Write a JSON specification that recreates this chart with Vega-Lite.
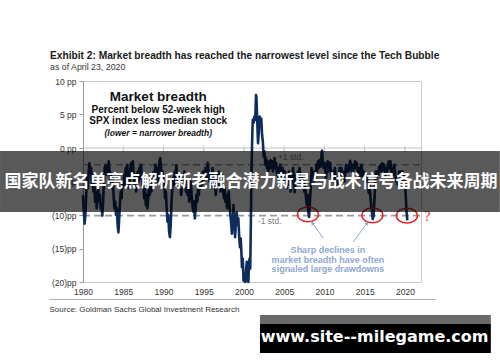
{
  "$schema": "https://vega.github.io/schema/vega-lite/v6.json",
  "width": 338,
  "height": 201,
  "autosize": "none",
  "padding": {"left": 83, "top": 81, "right": 79, "bottom": 80},
  "background": "white",
  "config": {
    "view": {"stroke": "#c8c8c8", "strokeWidth": 1},
    "font": "Liberation Sans"
  },
  "title": {
    "text": "Exhibit 2: Market breadth has reached the narrowest level since the Tech Bubble",
    "subtitle": "as of April 23, 2020",
    "anchor": "start",
    "frame": "group",
    "dx": -33,
    "offset": 5,
    "font": "Liberation Sans",
    "fontSize": 10.2,
    "fontWeight": "bold",
    "color": "#1a1a1a",
    "subtitleFont": "Liberation Sans",
    "subtitleFontSize": 8.8,
    "subtitleColor": "#333333",
    "subtitlePadding": 2
  },
  "encoding": {
    "x": {
      "field": "t",
      "type": "quantitative",
      "scale": {"domain": [1980, 2022], "nice": false, "zero": false},
      "axis": {
        "values": [1980, 1985, 1990, 1995, 2000, 2005, 2010, 2015, 2020],
        "format": "d",
        "grid": false,
        "ticks": false,
        "domain": false,
        "labelFlush": false,
        "labelFontSize": 8.5,
        "labelColor": "#333333",
        "labelPadding": 5,
        "title": "Source: Goldman Sachs Global Investment Research",
        "titleX": -34,
        "titleY": 27,
        "titleAlign": "left",
        "titleBaseline": "middle",
        "titleFontWeight": "normal",
        "titleFontSize": 8,
        "titleColor": "#333333"
      }
    },
    "y": {
      "field": "v",
      "type": "quantitative",
      "scale": {"domain": [-20, 10], "nice": false, "zero": false},
      "axis": {
        "values": [-20, -15, -10, -5, 0, 5, 10],
        "labelExpr": "datum.value > 0 ? datum.value + ' pp' : (datum.value == 0 ? '0 pp' : '(' + (-datum.value) + ')pp')",
        "grid": false,
        "domainColor": "#999999",
        "tickColor": "#999999",
        "tickSize": 4,
        "labelFontSize": 8.5,
        "labelColor": "#333333",
        "labelPadding": 3,
        "title": null
      }
    }
  },
  "layer": [
    {
      "data": {"values": [{"t": 1980, "t2": 2022, "v": 0}]},
      "mark": {"type": "rule", "color": "#c0c0c0", "strokeWidth": 1},
      "encoding": {"x2": {"field": "t2"}}
    },
    {
      "data": {"values": [{"t": 1985, "v": 0.3, "v2": -0.6}, {"t": 1990, "v": 0.3, "v2": -0.6}, {"t": 1995, "v": 0.3, "v2": -0.6}, {"t": 2000, "v": 0.3, "v2": -0.6}, {"t": 2005, "v": 0.3, "v2": -0.6}, {"t": 2010, "v": 0.3, "v2": -0.6}, {"t": 2015, "v": 0.3, "v2": -0.6}, {"t": 2020, "v": 0.3, "v2": -0.6}]},
      "mark": {"type": "rule", "color": "#c0c0c0", "strokeWidth": 1},
      "encoding": {"y2": {"field": "v2"}}
    },
    {
      "data": {"values": [{"t": 1980, "t2": 2022, "v": -2.5}, {"t": 1980, "t2": 2022, "v": -10.1}]},
      "mark": {"type": "rule", "color": "#9a9a9a", "strokeWidth": 1.6, "strokeDash": [7, 4]},
      "encoding": {"x2": {"field": "t2"}}
    },
    {
      "data": {"values": [
        {"t":1980.0,"v":-7},{"t":1980.1,"v":-9.5},{"t":1980.2,"v":-11.3},{"t":1980.3,"v":-10},{"t":1980.4,"v":-7},{"t":1980.5,"v":-4.5},{"t":1980.6,"v":-6},{"t":1980.7,"v":-3.5},{"t":1980.8,"v":-2.3},{"t":1980.9,"v":-4},
        {"t":1981.0,"v":-3},{"t":1981.1,"v":-5.5},{"t":1981.2,"v":-4},{"t":1981.3,"v":-6.5},{"t":1981.4,"v":-5},{"t":1981.5,"v":-8},{"t":1981.6,"v":-6.5},{"t":1981.7,"v":-9},{"t":1981.8,"v":-7.5},{"t":1981.9,"v":-6},
        {"t":1982.0,"v":-8},{"t":1982.1,"v":-7},{"t":1982.2,"v":-9},{"t":1982.3,"v":-8.5},{"t":1982.4,"v":-10.1},{"t":1982.5,"v":-8},{"t":1982.6,"v":-5},{"t":1982.7,"v":-3},{"t":1982.8,"v":-2.5},{"t":1982.9,"v":-4},
        {"t":1983.0,"v":-2.8},{"t":1983.1,"v":-3.5},{"t":1983.2,"v":-2},{"t":1983.3,"v":-3.5},{"t":1983.4,"v":-5},{"t":1983.5,"v":-3.8},{"t":1983.6,"v":-6},{"t":1983.7,"v":-4.5},{"t":1983.8,"v":-7},{"t":1983.9,"v":-9},
        {"t":1984.0,"v":-8},{"t":1984.1,"v":-10},{"t":1984.2,"v":-9},{"t":1984.3,"v":-11.5},{"t":1984.4,"v":-12.6},{"t":1984.5,"v":-10.5},{"t":1984.6,"v":-8},{"t":1984.7,"v":-6.5},{"t":1984.8,"v":-7.5},{"t":1984.9,"v":-5},
        {"t":1985.0,"v":-6},{"t":1985.1,"v":-4},{"t":1985.2,"v":-5.5},{"t":1985.3,"v":-3},{"t":1985.4,"v":-4.5},{"t":1985.5,"v":-2.5},{"t":1985.6,"v":-4},{"t":1985.7,"v":-6},{"t":1985.8,"v":-4.8},{"t":1985.9,"v":-3},
        {"t":1986.0,"v":-2.2},{"t":1986.1,"v":-3.5},{"t":1986.2,"v":-2},{"t":1986.3,"v":-4},{"t":1986.4,"v":-5.5},{"t":1986.5,"v":-4},{"t":1986.6,"v":-6.5},{"t":1986.7,"v":-5},{"t":1986.8,"v":-3.5},{"t":1986.9,"v":-5},
        {"t":1987.0,"v":-3},{"t":1987.1,"v":-4.5},{"t":1987.2,"v":-2.5},{"t":1987.3,"v":-4},{"t":1987.4,"v":-6},{"t":1987.5,"v":-5},{"t":1987.6,"v":-7.5},{"t":1987.7,"v":-6},{"t":1987.8,"v":-8.5},{"t":1987.9,"v":-7},
        {"t":1988.0,"v":-9},{"t":1988.1,"v":-7.5},{"t":1988.2,"v":-6},{"t":1988.3,"v":-7},{"t":1988.4,"v":-5},{"t":1988.5,"v":-6.5},{"t":1988.6,"v":-4.5},{"t":1988.7,"v":-5.5},{"t":1988.8,"v":-3.5},{"t":1988.9,"v":-4.5},
        {"t":1989.0,"v":-2.5},{"t":1989.1,"v":-4},{"t":1989.2,"v":-3},{"t":1989.3,"v":-5},{"t":1989.4,"v":-3.5},{"t":1989.5,"v":-2},{"t":1989.6,"v":-1.5},{"t":1989.7,"v":-3},{"t":1989.8,"v":-4.5},{"t":1989.9,"v":-3.5},
        {"t":1990.0,"v":-6},{"t":1990.1,"v":-5},{"t":1990.2,"v":-7.5},{"t":1990.3,"v":-6.5},{"t":1990.4,"v":-9},{"t":1990.5,"v":-11},{"t":1990.6,"v":-10},{"t":1990.7,"v":-12.5},{"t":1990.8,"v":-13.3},{"t":1990.9,"v":-11.5},
        {"t":1991.0,"v":-8},{"t":1991.1,"v":-6},{"t":1991.2,"v":-4.5},{"t":1991.3,"v":-5.5},{"t":1991.4,"v":-3.5},{"t":1991.5,"v":-4.5},{"t":1991.6,"v":-2.6},{"t":1991.7,"v":-4},{"t":1991.8,"v":-5.5},{"t":1991.9,"v":-4},
        {"t":1992.0,"v":-6},{"t":1992.1,"v":-5},{"t":1992.2,"v":-7},{"t":1992.3,"v":-5.5},{"t":1992.4,"v":-4},{"t":1992.5,"v":-5},{"t":1992.6,"v":-3.5},{"t":1992.7,"v":-5},{"t":1992.8,"v":-6.5},{"t":1992.9,"v":-5},
        {"t":1993.0,"v":-7},{"t":1993.1,"v":-6},{"t":1993.2,"v":-8},{"t":1993.3,"v":-6.5},{"t":1993.4,"v":-5},{"t":1993.5,"v":-7},{"t":1993.6,"v":-8.5},{"t":1993.7,"v":-9.5},{"t":1993.8,"v":-8},{"t":1993.9,"v":-10.5},
        {"t":1994.0,"v":-9},{"t":1994.1,"v":-7},{"t":1994.2,"v":-8},{"t":1994.3,"v":-6},{"t":1994.4,"v":-7},{"t":1994.5,"v":-5},{"t":1994.6,"v":-6},{"t":1994.7,"v":-4.5},{"t":1994.8,"v":-5.5},{"t":1994.9,"v":-3.5},
        {"t":1995.0,"v":-5},{"t":1995.1,"v":-4},{"t":1995.2,"v":-3},{"t":1995.3,"v":-4.5},{"t":1995.4,"v":-3.5},{"t":1995.5,"v":-2.2},{"t":1995.6,"v":-3.5},{"t":1995.7,"v":-5},{"t":1995.8,"v":-4},{"t":1995.9,"v":-6},
        {"t":1996.0,"v":-4.5},{"t":1996.1,"v":-3},{"t":1996.2,"v":-4.5},{"t":1996.3,"v":-6},{"t":1996.4,"v":-5},{"t":1996.5,"v":-7},{"t":1996.6,"v":-5.5},{"t":1996.7,"v":-4},{"t":1996.8,"v":-5.5},{"t":1996.9,"v":-3.5},
        {"t":1997.0,"v":-5},{"t":1997.1,"v":-6.5},{"t":1997.2,"v":-5},{"t":1997.3,"v":-4},{"t":1997.4,"v":-6},{"t":1997.5,"v":-7.5},{"t":1997.6,"v":-6},{"t":1997.7,"v":-8},{"t":1997.8,"v":-7},{"t":1997.9,"v":-9},
        {"t":1998.0,"v":-8},{"t":1998.1,"v":-6.5},{"t":1998.2,"v":-8.5},{"t":1998.3,"v":-9.9},{"t":1998.4,"v":-11},{"t":1998.5,"v":-12.8},{"t":1998.6,"v":-10.8},{"t":1998.7,"v":-8.5},{"t":1998.8,"v":-11},{"t":1998.9,"v":-13.3},
        {"t":1999.0,"v":-11},{"t":1999.1,"v":-9.6},{"t":1999.2,"v":-11.5},{"t":1999.3,"v":-10.5},{"t":1999.4,"v":-13},{"t":1999.5,"v":-14.8},{"t":1999.6,"v":-13.5},{"t":1999.7,"v":-16},{"t":1999.75,"v":-17.8},{"t":1999.85,"v":-16.5},
        {"t":1999.95,"v":-19.8},{"t":2000.05,"v":-19.5},{"t":2000.15,"v":-20},{"t":2000.25,"v":-18.5},{"t":2000.35,"v":-17},{"t":2000.45,"v":-19.8},{"t":2000.55,"v":-20},{"t":2000.62,"v":-17.3},{"t":2000.7,"v":-16.5},{"t":2000.78,"v":-18},
        {"t":2000.85,"v":-12},{"t":2000.92,"v":-5},{"t":2001.0,"v":0},{"t":2001.05,"v":2.7},{"t":2001.1,"v":4.2},{"t":2001.2,"v":3.8},{"t":2001.3,"v":4.7},{"t":2001.4,"v":4.2},{"t":2001.5,"v":7.9},{"t":2001.55,"v":7.6},
        {"t":2001.65,"v":4},{"t":2001.75,"v":0.7},{"t":2001.85,"v":2.5},{"t":2001.95,"v":4.7},{"t":2002.05,"v":3.5},{"t":2002.15,"v":4.4},{"t":2002.25,"v":2},{"t":2002.35,"v":0.9},{"t":2002.45,"v":-1.3},{"t":2002.55,"v":-0.5},
        {"t":2002.65,"v":-2.5},{"t":2002.75,"v":-1.5},{"t":2002.85,"v":-3},{"t":2002.95,"v":-2},{"t":2003.05,"v":-3.5},{"t":2003.15,"v":-2.5},{"t":2003.3,"v":-1.8},{"t":2003.4,"v":-3},{"t":2003.5,"v":-2},{"t":2003.6,"v":-3.5},
        {"t":2003.7,"v":-2.5},{"t":2003.8,"v":-1.5},{"t":2003.9,"v":-3},{"t":2004.0,"v":-2.2},{"t":2004.1,"v":-4},{"t":2004.2,"v":-3},{"t":2004.3,"v":-4.5},{"t":2004.4,"v":-3.5},{"t":2004.5,"v":-2.5},{"t":2004.6,"v":-3.5},
        {"t":2004.7,"v":-4.5},{"t":2004.8,"v":-3},{"t":2004.9,"v":-4},{"t":2005.0,"v":-5},{"t":2005.1,"v":-3.5},{"t":2005.2,"v":-4.5},{"t":2005.3,"v":-6},{"t":2005.4,"v":-4.5},{"t":2005.5,"v":-5.5},{"t":2005.6,"v":-3.5},
        {"t":2005.7,"v":-4.5},{"t":2005.8,"v":-6.5},{"t":2005.9,"v":-5},{"t":2006.0,"v":-4},{"t":2006.1,"v":-3},{"t":2006.2,"v":-4.5},{"t":2006.3,"v":-6.6},{"t":2006.4,"v":-5.5},{"t":2006.5,"v":-4},{"t":2006.6,"v":-5},
        {"t":2006.7,"v":-3.5},{"t":2006.8,"v":-4.5},{"t":2006.9,"v":-3},{"t":2007.0,"v":-4},{"t":2007.1,"v":-5.5},{"t":2007.2,"v":-4.5},{"t":2007.3,"v":-6},{"t":2007.4,"v":-5},{"t":2007.5,"v":-6.5},{"t":2007.6,"v":-5.5},
        {"t":2007.7,"v":-7.3},{"t":2007.8,"v":-8.5},{"t":2007.9,"v":-7},{"t":2008.0,"v":-9.6},{"t":2008.1,"v":-10.3},{"t":2008.2,"v":-8},{"t":2008.3,"v":-6},{"t":2008.4,"v":-3},{"t":2008.5,"v":-4.3},{"t":2008.6,"v":-3.5},
        {"t":2008.7,"v":-5},{"t":2008.8,"v":-3.5},{"t":2008.9,"v":-4.5},{"t":2009.0,"v":-2.5},{"t":2009.1,"v":-3.5},{"t":2009.2,"v":-2},{"t":2009.3,"v":-3},{"t":2009.4,"v":-1.8},{"t":2009.5,"v":-2.8},{"t":2009.6,"v":-1.5},
        {"t":2009.7,"v":-0.4},{"t":2009.8,"v":-2},{"t":2009.9,"v":-3},{"t":2010.0,"v":-2.2},{"t":2010.1,"v":-3},{"t":2010.2,"v":-4.5},{"t":2010.3,"v":-3},{"t":2010.4,"v":-2},{"t":2010.5,"v":-3.5},{"t":2010.6,"v":-2.5},
        {"t":2010.7,"v":-2.2},{"t":2010.8,"v":-3.5},{"t":2010.9,"v":-4.5},{"t":2011.0,"v":-3.5},{"t":2011.1,"v":-5},{"t":2011.2,"v":-4},{"t":2011.3,"v":-3},{"t":2011.4,"v":-4.5},{"t":2011.5,"v":-5.6},{"t":2011.6,"v":-4.4},
        {"t":2011.7,"v":-5.5},{"t":2011.8,"v":-4},{"t":2011.9,"v":-3},{"t":2012.0,"v":-4},{"t":2012.1,"v":-3},{"t":2012.2,"v":-4.5},{"t":2012.3,"v":-3.5},{"t":2012.4,"v":-4},{"t":2012.5,"v":-5},{"t":2012.6,"v":-3.5},
        {"t":2012.7,"v":-2.5},{"t":2012.8,"v":-3.5},{"t":2012.9,"v":-2.8},{"t":2013.0,"v":-3.5},{"t":2013.1,"v":-2.5},{"t":2013.2,"v":-1.9},{"t":2013.3,"v":-2.5},{"t":2013.4,"v":-3.5},{"t":2013.5,"v":-2.5},{"t":2013.6,"v":-3.5},
        {"t":2013.7,"v":-2.8},{"t":2013.8,"v":-2},{"t":2013.9,"v":-3},{"t":2014.0,"v":-2.2},{"t":2014.1,"v":-3},{"t":2014.2,"v":-4},{"t":2014.3,"v":-3},{"t":2014.4,"v":-4.5},{"t":2014.5,"v":-3.5},{"t":2014.6,"v":-2.5},
        {"t":2014.7,"v":-3.5},{"t":2014.8,"v":-4.5},{"t":2014.9,"v":-3.5},{"t":2015.0,"v":-5},{"t":2015.1,"v":-4},{"t":2015.2,"v":-5},{"t":2015.3,"v":-4},{"t":2015.4,"v":-5.5},{"t":2015.5,"v":-6.7},{"t":2015.6,"v":-5.5},
        {"t":2015.7,"v":-7},{"t":2015.8,"v":-8.5},{"t":2015.9,"v":-9.5},{"t":2016.0,"v":-10.6},{"t":2016.1,"v":-10.2},{"t":2016.2,"v":-8},{"t":2016.3,"v":-5.5},{"t":2016.4,"v":-3.5},{"t":2016.5,"v":-4.5},{"t":2016.6,"v":-3.5},
        {"t":2016.7,"v":-4},{"t":2016.8,"v":-2.8},{"t":2016.9,"v":-3.5},{"t":2017.0,"v":-2.5},{"t":2017.1,"v":-3.5},{"t":2017.2,"v":-2.3},{"t":2017.3,"v":-3.2},{"t":2017.4,"v":-2.5},{"t":2017.5,"v":-3.5},{"t":2017.6,"v":-4},
        {"t":2017.7,"v":-3},{"t":2017.8,"v":-3.5},{"t":2017.9,"v":-2.5},{"t":2018.0,"v":-2},{"t":2018.1,"v":-3},{"t":2018.2,"v":-2},{"t":2018.3,"v":-3.5},{"t":2018.4,"v":-3},{"t":2018.5,"v":-4},{"t":2018.6,"v":-3},
        {"t":2018.7,"v":-2.5},{"t":2018.8,"v":-4},{"t":2018.9,"v":-5},{"t":2019.0,"v":-4.4},{"t":2019.1,"v":-5.5},{"t":2019.2,"v":-4.5},{"t":2019.3,"v":-3.5},{"t":2019.4,"v":-4.5},{"t":2019.5,"v":-3.5},{"t":2019.6,"v":-4.5},
        {"t":2019.7,"v":-3.5},{"t":2019.8,"v":-5},{"t":2019.9,"v":-4},{"t":2020.0,"v":-5.5},{"t":2020.1,"v":-7},{"t":2020.2,"v":-9.5},{"t":2020.3,"v":-10.8}
      ]},
      "mark": {"type": "line", "color": "#0f2d5c", "strokeWidth": 2.6, "strokeJoin": "round"}
    },
    {
      "data": {"values": [{"t": 2007.95, "v": -9.9}, {"t": 2015.96, "v": -10.05}, {"t": 2020.25, "v": -10.1}]},
      "mark": {"type": "point", "shape": "M-1,0A1,0.7,0,1,0,1,0A1,0.7,0,1,0,-1,0Z", "size": 441, "filled": false, "stroke": "#e0262b", "strokeWidth": 1.5, "opacity": 1}
    },
    {
      "data": {"values": [{"t": 2009.85, "v": -13.48, "t2": 2008.41, "v2": -11.0}, {"t": 2013.58, "v": -13.99, "t2": 2015.44, "v2": -11.0}]},
      "mark": {"type": "rule", "color": "#8fa8cc", "strokeWidth": 1},
      "encoding": {"x2": {"field": "t2"}, "y2": {"field": "v2"}}
    },
    {
      "data": {"values": [{"t": 2008.5, "v": -11.2}]},
      "mark": {"type": "point", "shape": "triangle-up", "size": 18, "filled": true, "color": "#8fa8cc", "angle": -35, "opacity": 1}
    },
    {
      "data": {"values": [{"t": 2015.3, "v": -11.2}]},
      "mark": {"type": "point", "shape": "triangle-up", "size": 18, "filled": true, "color": "#8fa8cc", "angle": 37, "opacity": 1}
    },
    {
      "data": {"values": [{"t": 2022.8, "v": -10.25, "txt": "?"}]},
      "mark": {"type": "text", "font": "Liberation Serif", "fontSize": 14, "color": "#e0262b", "baseline": "middle", "align": "center"},
      "encoding": {"text": {"field": "txt"}}
    },
    {
      "data": {"values": [{"t": 2005.8, "v": -1.3, "txt": "+1 std."}, {"t": 2003.2, "v": -10.9, "txt": "-1 std."}]},
      "mark": {"type": "text", "font": "Liberation Sans", "fontSize": 8.5, "color": "#808080", "baseline": "middle", "align": "center"},
      "encoding": {"text": {"field": "txt"}}
    },
    {
      "data": {"values": [{"t": 1989.35, "v": 7.57, "txt": "Market breadth"}]},
      "mark": {"type": "text", "font": "Liberation Sans", "fontSize": 13.5, "fontWeight": "bold", "color": "#111111", "baseline": "middle", "align": "center", "letterSpacing": -0.3},
      "encoding": {"text": {"field": "txt"}}
    },
    {
      "data": {"values": [{"t": 1989.35, "v": 5.67, "txt": "Percent below 52-week high"}, {"t": 1989.35, "v": 4.03, "txt": "SPX index less median stock"}]},
      "mark": {"type": "text", "font": "Liberation Sans", "fontSize": 10, "fontWeight": "bold", "color": "#111111", "baseline": "middle", "align": "center", "letterSpacing": -0.2},
      "encoding": {"text": {"field": "txt"}}
    },
    {
      "data": {"values": [{"t": 1989.35, "v": 2.19, "txt": "(lower = narrower  breadth)"}]},
      "mark": {"type": "text", "font": "Liberation Sans", "fontSize": 8.5, "fontWeight": "bold", "fontStyle": "italic", "color": "#111111", "baseline": "middle", "align": "center"},
      "encoding": {"text": {"field": "txt"}}
    },
    {
      "data": {"values": [{"t": 2010.43, "v": -15.22, "txt": "Sharp declines in"}, {"t": 2010.43, "v": -16.67, "txt": "market breadth have often"}, {"t": 2010.43, "v": -18.1, "txt": "signaled large drawdowns"}]},
      "mark": {"type": "text", "font": "Liberation Sans", "fontSize": 9, "fontWeight": "bold", "color": "#8ea7cf", "baseline": "middle", "align": "center"},
      "encoding": {"text": {"field": "txt"}}
    },
    {
      "data": {"values": [{"t": 1975.78, "t2": 2023.85, "v": -22.61}]},
      "mark": {"type": "rule", "color": "#b0b0b0", "strokeWidth": 1.2, "clip": false},
      "encoding": {"x2": {"field": "t2"}}
    },
    {
      "data": {"values": [{"t": 1969.69, "t2": 2031.8, "v": -0.45, "v2": -9.55}]},
      "mark": {"type": "rect", "color": "#000000", "opacity": 0.65, "clip": false},
      "encoding": {"x2": {"field": "t2"}, "y2": {"field": "v2"}}
    },
    {
      "data": {"values": [{"t": 2000.87, "v": -5.0, "txt": "国家队新名单亮点解析新老融合潜力新星与战术信号备战未来周期"}]},
      "mark": {"type": "text", "font": "Noto Sans CJK SC", "fontSize": 17, "fontWeight": "bold", "color": "#ffffff", "baseline": "middle", "align": "center"},
      "encoding": {"text": {"field": "txt"}}
    },
    {
      "data": {"values": [{"t": 2001.99, "t2": 2030.68, "v": -24.93, "v2": -26.27}]},
      "mark": {"type": "rect", "color": "#6a6a6a", "opacity": 1, "clip": false},
      "encoding": {"x2": {"field": "t2"}, "y2": {"field": "v2"}}
    },
    {
      "data": {"values": [{"t": 2001.99, "t2": 2030.68, "v": -26.27, "v2": -30.6}]},
      "mark": {"type": "rect", "color": "#000000", "opacity": 1, "clip": false},
      "encoding": {"x2": {"field": "t2"}, "y2": {"field": "v2"}}
    },
    {
      "data": {"values": [{"t": 2016.24, "v": -28.16, "txt": "www.site--milegame.com"}]},
      "mark": {"type": "text", "font": "DejaVu Sans", "fontSize": 16, "fontWeight": "bold", "color": "#ffffff", "baseline": "middle", "align": "center"},
      "encoding": {"text": {"field": "txt"}}
    }
  ]
}
